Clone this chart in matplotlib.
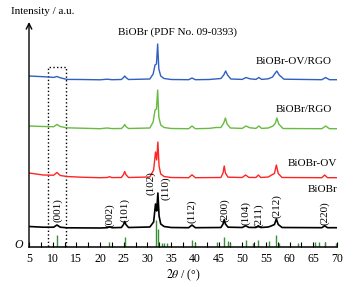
import matplotlib
matplotlib.use('Agg')
import matplotlib.pyplot as plt
from matplotlib.patches import Rectangle
from matplotlib.ticker import MultipleLocator

plt.rcParams['font.family'] = ['Liberation Serif', 'DejaVu Serif']
plt.rcParams['mathtext.fontset'] = 'stix'

# 曲线数据 (相对各自基线的强度)
bk_x = [5, 8, 10.2, 10.9, 11.6, 13, 20, 21.5, 22.0, 22.5, 24.5, 24.95, 25.2, 25.45, 26,
        30.5, 31.3, 31.7, 31.95, 32.2, 32.45, 32.8, 33.5, 35, 38.7, 39.4, 40.1, 45.5, 45.95,
        46.2, 46.45, 47, 50, 50.7, 51.4, 52.9, 53.4, 53.9, 55.5, 56.2, 56.8, 57.2, 57.6, 58.4,
        66.8, 67.4, 68, 70]
bk_y = [1.5, 0.8, 0.8, 3.0, 0.8, 0.2, 0, 0.3, 1.2, 0.3, 0.5, 3.5, 6.5, 3.5, 0.5,
        1.0, 6, 24, 17, 35, 12, 4, 1.5, 0.5, 0.3, 3.0, 0.3, 0.5, 4,
        8.5, 4, 0.8, 0.5, 2.2, 0.6, 0.5, 2.2, 0.5, 1, 2.2, 3.5, 9, 3.5, 0.5,
        0.3, 2.2, 0.3, 0.3]

rd_x = [5, 8, 10.2, 10.9, 11.6, 13, 16, 20, 21.5, 22.0, 22.5, 24.5, 24.95, 25.2, 25.45, 26,
        30.5, 31.3, 31.7, 31.95, 32.2, 32.45, 32.8, 33.5, 35, 38.7, 39.4, 40.1, 45.5, 45.95,
        46.2, 46.45, 47, 50, 50.7, 51.4, 52.9, 53.4, 53.9, 55.5, 56.2, 56.8, 57.2, 57.6, 58.4,
        66.8, 67.4, 68, 70]
rd_y = [5, 3, 2.8, 5.5, 2.5, 1.5, 0.8, 0.3, 0.5, 1.3, 0.4, 0.5, 3.5, 6.5, 3.5, 0.5,
        1.0, 8, 26, 18, 36, 12, 4, 1.5, 0.5, 0.3, 3.2, 0.3, 0.5, 5,
        12, 5, 0.8, 0.5, 3, 0.6, 0.5, 3, 0.5, 1, 3, 4.5, 13, 4.5, 0.5,
        0.3, 3, 0.3, 0.3]

gr_x = [5, 8, 10.2, 10.9, 11.6, 13, 16, 20, 21.5, 22.5, 24.5, 24.95, 25.2, 25.45, 26,
        30.5, 31.2, 31.6, 31.9, 32.15, 32.4, 32.8, 33.5, 35, 38.7, 39.4, 40.1, 43, 44.5, 45.5,
        46.1, 46.45, 46.8, 47.5, 50, 50.8, 51.6, 52.9, 53.5, 54.1, 55.5, 56.5, 57.0, 57.3, 57.7,
        58.6, 66.8, 67.6, 68.4, 70]
gr_y = [3, 2.5, 2.3, 4.5, 2.5, 1.2, 0.8, 0.3, 1.0, 0.4, 0.5, 2.5, 4.5, 2.5, 0.5,
        1.0, 7, 19, 20, 39, 12, 4, 1.5, 0.5, 0.3, 3.0, 0.3, 0.6, 1.5, 1.5,
        6, 11, 5, 1, 0.6, 3, 1.2, 0.6, 3, 0.6, 1, 3, 6, 11, 5,
        0.5, 0.3, 3, 0.3, 0.3]

bl_x = [5, 8, 10.2, 10.9, 11.6, 13, 16, 20, 21.5, 22.5, 24.5, 24.95, 25.2, 25.45, 26,
        30.5, 31.2, 31.6, 31.9, 32.15, 32.4, 32.8, 33.5, 35, 38.7, 39.4, 40.1, 43, 45.5,
        46.1, 46.5, 46.9, 47.6, 50, 50.8, 51.6, 52.9, 53.5, 54.1, 55.5, 56.4, 56.9, 57.3, 57.8,
        58.8, 66.8, 67.6, 68.4, 70]
bl_y = [4, 3.3, 2.6, 3.5, 2.2, 0.6, 0.5, 0.2, 0.8, 0.3, 0.5, 2.5, 4, 2.5, 0.5,
        1.0, 6, 15, 16, 36, 11, 4, 1.5, 0.5, 0.3, 2.0, 0.3, 0.5, 1.5,
        5, 9, 5, 1, 0.6, 2.5, 1.2, 0.6, 2.5, 0.6, 1.2, 3, 6.5, 9, 5,
        0.8, 0.3, 2.5, 0.3, 0.3]

# PDF No. 09-0393 标准谱线
pdf_pos = [10.9, 21.9, 25.2, 31.7, 32.2, 33.0, 33.5, 34.1, 39.4, 40.0, 44.6, 46.2, 47.0, 47.5,
           50.7, 52.2, 53.4, 55.7, 57.1, 57.7, 61.8, 65.4, 66.2, 67.4, 69.8]
pdf_int = [12, 5, 10, 27, 18, 4, 4, 4, 7, 4, 5, 10, 6, 4,
           7, 4, 7, 6, 12, 4, 4, 5, 5, 5, 4]

peak_labels = ['(001)', '(002)', '(101)', '(102)', '(110)', '(112)', '(200)', '(104)',
               '(211)', '(212)', '(220)']
label_x = [11.1, 22.1, 25.3, 30.7, 33.8, 39.4, 46.4, 50.8, 53.5, 57.3, 67.5]
label_y = [25, 20, 25, 52, 47, 24, 25, 22, 20, 29, 22]

fig = plt.figure(figsize=(3.53, 2.87), dpi=100)
ax = fig.add_axes([29/353, 40/287, 308/353, 225/287])

offsets = [19, 69, 118, 167]
series = [(bk_x, bk_y, 'black', 1.2), (rd_x, rd_y, '#ff2424', 1.0),
          (gr_x, gr_y, '#66bb40', 1.0), (bl_x, bl_y, '#2f5fbf', 1.0)]
for (xs, ys, c, w), off in zip(series, offsets):
    ax.plot(xs, [v + off for v in ys], color=c, lw=w)

ax.vlines(pdf_pos, 0, pdf_int, color='#3a8f3a', lw=1.0)

for t, x, y in zip(peak_labels, label_x, label_y):
    ax.text(x, y, t, rotation=90, ha='center', va='bottom', fontsize=8)

ax.add_patch(Rectangle((9.0, 0), 3.8, 180, fill=False, ls=':', lw=1.0, color='black'))

ax.text(36.4, 215, 'BiOBr (PDF No. 09-0393)', ha='center', va='center', fontsize=8)
ax.text(68.9, 186, 'BiOBr-OV/RGO', ha='right', va='center', fontsize=8)
ax.text(68.9, 138, 'BiOBr/RGO', ha='right', va='center', fontsize=8)
ax.text(70, 84, 'BiOBr-OV', ha='right', va='center', fontsize=8)
ax.text(70, 57, 'BiOBr', ha='right', va='center', fontsize=8)

ax.set_xlim(5, 70)
ax.set_ylim(0, 225)
ax.xaxis.set_major_locator(MultipleLocator(5))
ax.xaxis.set_minor_locator(MultipleLocator(2.5))
ax.tick_params(axis='x', which='both', direction='in', length=3.5, width=0.8,
               labelsize=8.5, pad=4)
ax.set_yticks([])
for s in ['top', 'right', 'left']:
    ax.spines[s].set_visible(False)
ax.spines['bottom'].set_linewidth(1.1)

ax.annotate('', xy=(0, 1.0), xycoords='axes fraction', xytext=(0, 0),
            arrowprops=dict(arrowstyle='->', lw=1.0, color='black',
                            shrinkA=0, shrinkB=0))

ax.text(-0.02, 0.01, 'O', transform=ax.transAxes, ha='right', va='center',
        fontsize=8.5, style='italic')
ax.set_xlabel(r'$2\theta$ / (°)', fontsize=8.5, labelpad=2)
fig.text(11/353, 1 - 12/287, 'Intensity / a.u.', ha='left', va='center', fontsize=8)

fig.savefig('out.png', dpi=100)
